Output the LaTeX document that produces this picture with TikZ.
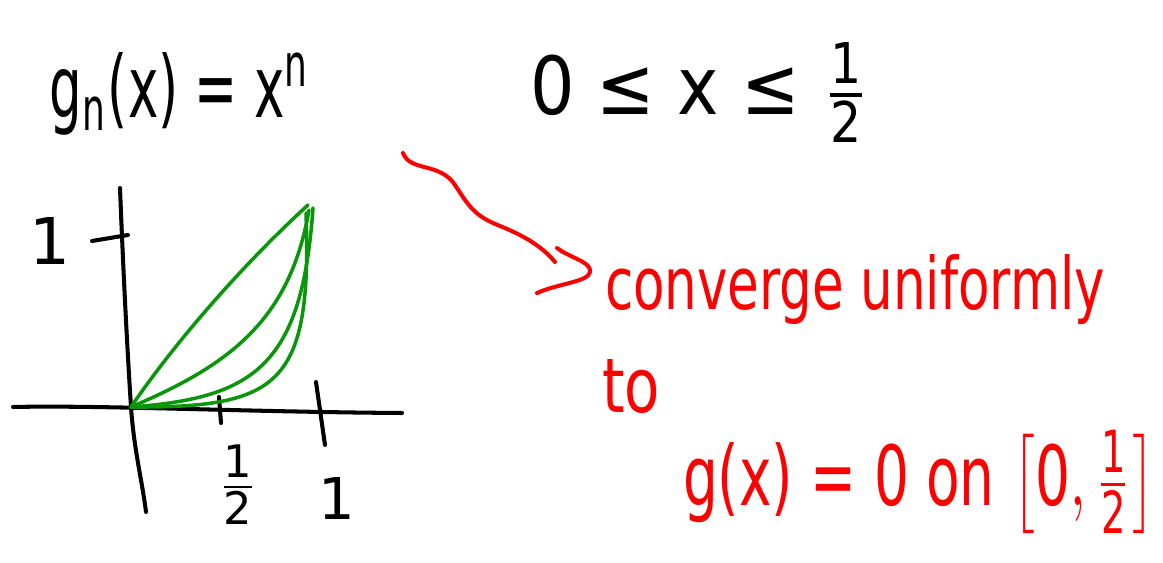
\documentclass[tikz,border=0pt]{standalone}
\usepackage{fontspec}
\usepackage{amsmath}
\usepackage{graphicx}
\setmainfont{DejaVu Sans}
\definecolor{pengreen}{RGB}{10,150,10}
\definecolor{penred}{RGB}{255,0,0}
\begin{document}
\begin{tikzpicture}[x=0.02cm,y=-0.02cm,
  pen/.style={line width=2.3pt,line cap=round,line join=round},
  blackpen/.style={pen,draw=black},
  greenpen/.style={pen,draw=pengreen,line width=2pt},
  redpen/.style={pen,draw=penred},
  lbl/.style={inner sep=0pt,outer sep=0pt,text=black},
  redlbl/.style={lbl,text=penred}]
\path[fill=white] (0,0) rectangle (1163,563);
\useasboundingbox (0,0) rectangle (1163,563);

% black headline
\node[lbl,anchor=base west] (gn) at (50,118)
  {\resizebox{5.2cm}{1.3cm}{g\textsubscript{n}(x) = x\textsuperscript{n}}};
\node[lbl,anchor=base west] (dom) at (530,115)
  {\resizebox{6.8cm}{1.45cm}{0 ≤ x ≤ $\frac{\text{1}}{\text{2}}$}};

% axes
\draw[blackpen] (120,188) .. controls (124,290) and (128,360) .. (131,407)
  .. controls (134,450) and (142,480) .. (146,512);
\draw[blackpen] (13,407) .. controls (100,405) and (250,412) .. (402,413);
\draw[blackpen] (92,241) -- (128,235);
\draw[blackpen] (219,397) -- (221,423);
\draw[blackpen] (316,382) -- (325,445);

% axis labels
\node[lbl,anchor=base] (yone) at (50,265) {\resizebox{!}{0.94cm}{1}};
\node[lbl] (xhalf) at (238,485) {\resizebox*{!}{1.6cm}{$\frac{\text{1}}{\text{2}}$}};
\node[lbl,anchor=base] (xone) at (337,520) {\resizebox{!}{0.84cm}{1}};

% green curves
\coordinate (orig) at (131,407);
\draw[greenpen] (orig) .. controls (180,335) and (250,258) .. (308,205);
\draw[greenpen] (orig) .. controls (230,365) and (290,320) .. (309,210);
\draw[greenpen] (orig) .. controls (255,398) and (302,365) .. (313,208);
\draw[greenpen] (orig) .. controls (280,408) and (312,385) .. (306,213);

% red squiggly arrow
\coordinate (arrS) at (403,153);
\coordinate (arrE) at (555,262);
\draw[redpen] (arrS) .. controls (410,172) and (440,162) .. (455,185)
  .. controls (470,208) and (475,216) .. (500,226)
  .. controls (530,238) and (545,250) .. (arrE);
\coordinate (headA) at (557,248);
\coordinate (headB) at (537,293);
\draw[redpen] (headA) .. controls (570,258) and (592,262) .. (590,272)
  .. controls (588,282) and (560,283) .. (headB);

% red text
\node[redlbl,anchor=base west] (conv) at (605,310)
  {\resizebox{10cm}{1.1cm}{converge uniformly}};
\node[redlbl,anchor=base west] (to) at (602,413)
  {\resizebox{1.16cm}{1.06cm}{to}};
\node[redlbl,anchor=base west] (lim) at (683,505)
  {\resizebox{9.44cm}{1.5cm}{g(x) = 0 on $\left[\text{0},\frac{\text{1}}{\text{2}}\right]$}};
\end{tikzpicture}
\end{document}
